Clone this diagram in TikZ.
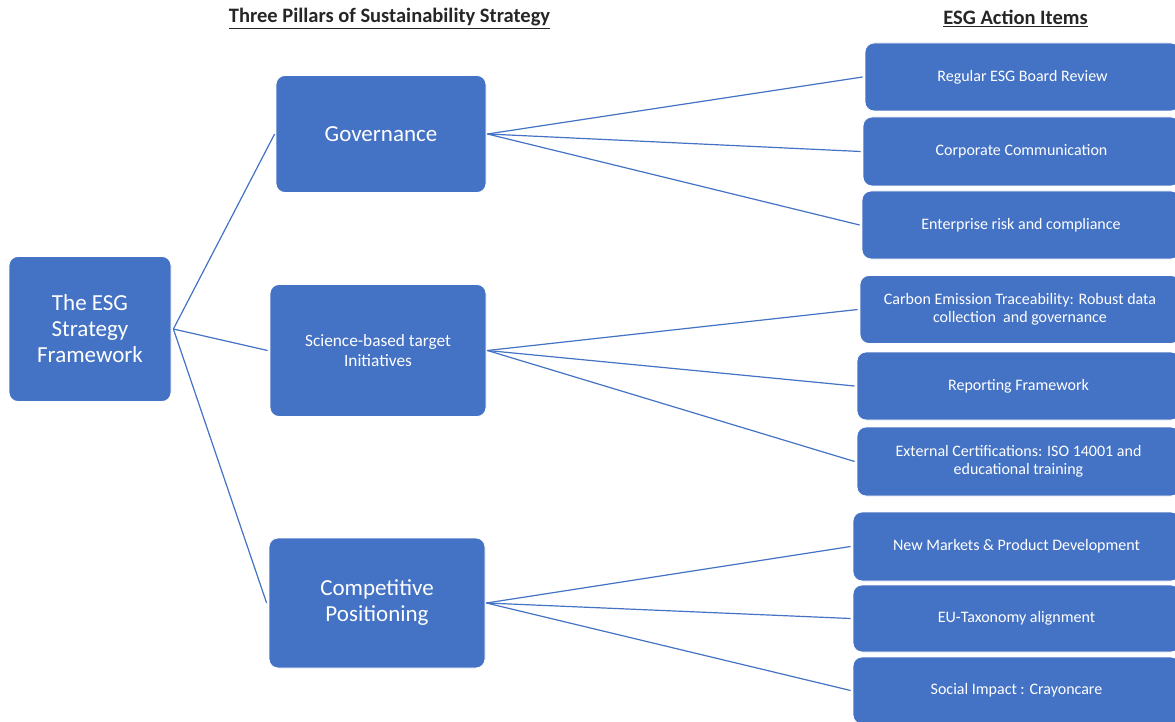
\documentclass[tikz,border=0pt]{standalone}
\usepackage{fontspec}
\setmainfont{Carlito}
\definecolor{esg}{HTML}{4472C4}
\definecolor{ttl}{HTML}{262626}
\begin{document}
\begin{tikzpicture}[x=1pt,y=-1pt,
  box/.style={rounded corners=9pt, fill=esg, draw=white, line width=0.8pt, text=white, align=center, inner sep=0pt},
  big/.style={box, font=\fontsize{23}{26}\selectfont},
  mid/.style={box, font=\fontsize{17.3}{20}\selectfont},
  act/.style={box, font=\fontsize{16}{18}\selectfont, minimum height=68pt},
  link/.style={draw=esg, line width=1.2pt},
  ttlstyle/.style={font=\fontsize{20.5}{23}\selectfont\bfseries, text=ttl, inner sep=0pt}]
\useasboundingbox (0,0) rectangle (1175,722);
\clip (0,0) rectangle (1175,722);
\fill[white] (0,0) rectangle (1175,722);
% titles
\node[ttlstyle] (t1) at (389.5,18.5) {\underline{Three Pillars of Sustainability Strategy}};
\node[ttlstyle] (t2) at (1015.5,18.5) {\underline{ESG Action Items}};
% root
\node[big, minimum width=162pt, minimum height=145pt] (root) at (90,329) {The ESG\\Strategy\\Framework};
% pillars
\node[big, minimum width=210pt, minimum height=117pt] (gov) at (381,134) {Governance};
\node[mid, minimum width=216pt, minimum height=132pt] (sci) at (378,350.5) {Science-based target\\Initiatives};
\node[big, minimum width=216pt, minimum height=130pt] (comp) at (377,603) {Competitive\\Positioning};
% action items
\node[act, minimum width=315pt] (r1) at (1022.5,77) {Regular ESG Board Review};
\node[act, minimum width=317pt, minimum height=69pt] (r2) at (1021.5,151.5) {Corporate Communication};
\node[act, minimum width=318pt] (r3) at (1021,225) {Enterprise risk and compliance};
\node[act, minimum width=320pt] (r4) at (1020,309.5) {Carbon Emission Traceability: Robust data\\collection\ \ and governance};
\node[act, minimum width=323pt] (r5) at (1018.5,386) {Reporting Framework};
\node[act, minimum width=323pt, minimum height=69pt] (r6) at (1018.5,461.5) {External Certifications: ISO 14001 and\\educational training};
\node[act, minimum width=327pt, minimum height=69pt] (r7) at (1016.5,546.5) {New Markets \& Product Development};
\node[act, minimum width=327pt, minimum height=67pt] (r8) at (1016.5,618.5) {EU-Taxonomy alignment};
\node[act, minimum width=327pt, minimum height=67pt] (r9) at (1016.5,690.5) {Social Impact : Crayoncare};
% connectors
\draw[link] ([xshift=2pt]root.east) -- ([xshift=-1pt]gov.west);
\draw[link] ([xshift=2pt]root.east) -- ([xshift=-2pt]sci.west);
\draw[link] ([xshift=2pt]root.east) -- ([xshift=-2pt]comp.west);
\foreach \r in {r1,r2,r3} \draw[link] ([xshift=1pt]gov.east) -- ([xshift=-2pt]\r.west);
\foreach \r in {r4,r5,r6} \draw[link] ([xshift=1pt]sci.east) -- ([xshift=-2pt]\r.west);
\foreach \r in {r7,r8,r9} \draw[link] ([xshift=1pt]comp.east) -- ([xshift=-2pt]\r.west);
\end{tikzpicture}
\end{document}
